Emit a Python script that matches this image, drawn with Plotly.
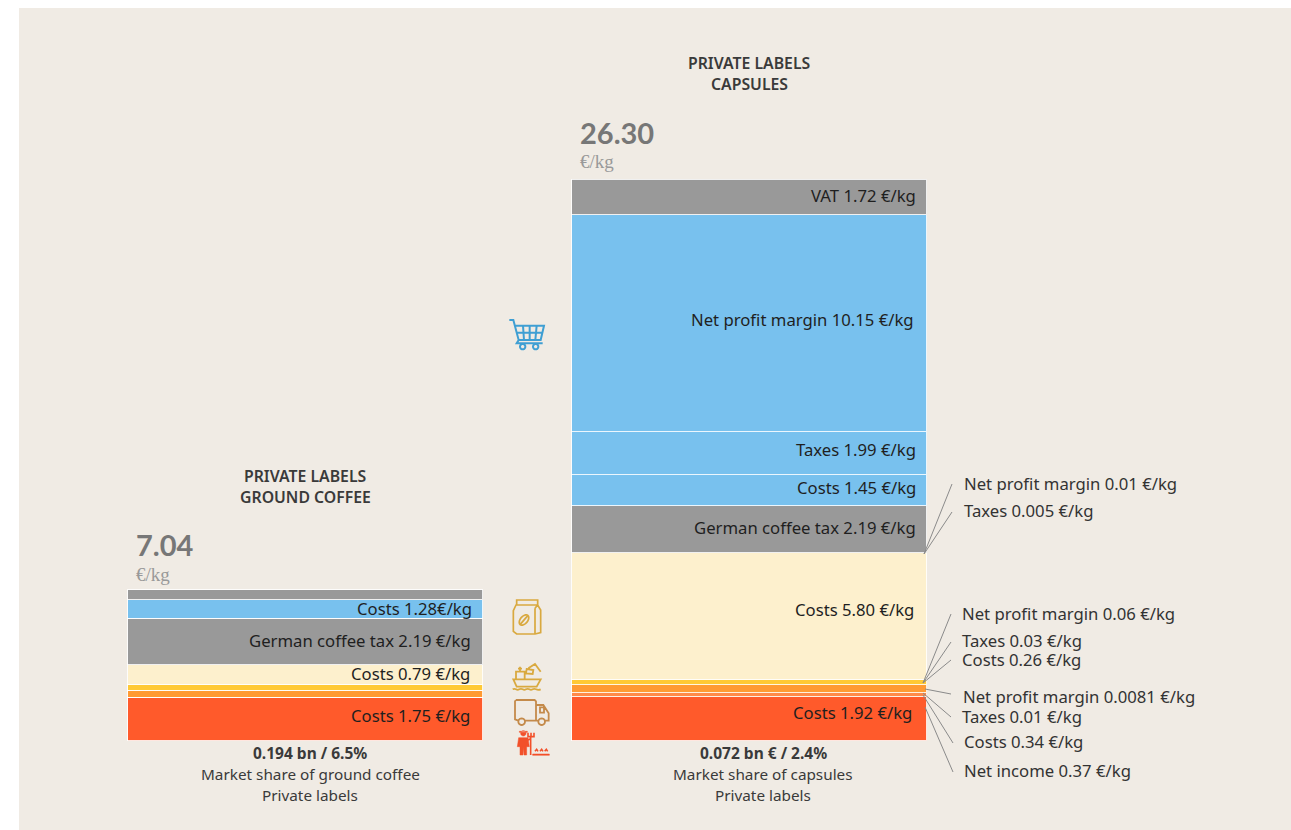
import re
import math
import plotly.graph_objects as go

# ---------- data (heights in EUR/kg) ----------
products = ["Ground coffee", "Capsules"]
seg_colors = ["#ff5a2b", "#ff8a4a", "#ff9a33", "#ffc935", "#fdf0cd", "#999999", "#78c1ee", "#78c1ee", "#78c1ee", "#999999"]
ground_values = [2.02, 0.0, 0.33, 0.28, 0.91, 2.20, 0.87, 0.0, 0.0, 0.46]
capsule_values = [2.06, 0.19, 0.375, 0.235, 5.95, 2.20, 1.45, 2.02, 10.17, 1.67]

inner_labels = [
    ("VAT 1.72 €/kg", 916, 195), ("Net profit margin 10.15 €/kg", 914, 319),
    ("Taxes 1.99 €/kg", 916, 449), ("Costs 1.45 €/kg", 916, 488),
    ("German coffee tax 2.19 €/kg", 916, 527), ("Costs 5.80 €/kg", 914, 609),
    ("Costs 1.92 €/kg", 912, 712), ("Costs 1.28€/kg", 472, 608),
    ("German coffee tax 2.19 €/kg", 471, 640), ("Costs 0.79 €/kg", 470, 673),
    ("Costs 1.75 €/kg", 470, 715),
]
side_labels = [
    ("Net profit margin 0.01 €/kg", 964, 483, (924, 554), (952, 484)),
    ("Taxes 0.005 €/kg", 964, 510, (924, 554), (952, 512)),
    ("Net profit margin 0.06 €/kg", 962, 613, (923, 683), (951, 614)),
    ("Taxes 0.03 €/kg", 962, 640, (923, 683), (951, 642)),
    ("Costs 0.26 €/kg", 962, 659, (923, 683), (951, 660)),
    ("Net profit margin 0.0081 €/kg", 963, 696, (925, 689), (951, 694)),
    ("Taxes 0.01 €/kg", 962, 716, (923, 693), (951, 717)),
    ("Costs 0.34 €/kg", 964, 741, (923, 695), (953, 743)),
    ("Net income 0.37 €/kg", 964, 770, (925, 707), (953, 772)),
]
center_labels = [
    ("PRIVATE LABELS", 749, 63, 600, 15.8), ("CAPSULES", 749, 84, 600, 15.8),
    ("PRIVATE LABELS", 305, 476, 600, 15.8), ("GROUND COFFEE", 305, 497, 600, 15.8),
    ("0.194 bn / 6.5%", 310, 753, 700, 15.5), ("Market share of ground coffee", 310, 774, 400, 15.3),
    ("Private labels", 310, 795, 400, 15.3),
    ("0.072 bn € / 2.4%", 763, 753, 700, 15.5), ("Market share of capsules", 763, 774, 400, 15.3),
    ("Private labels", 763, 795, 400, 15.3),
]
totals = [("26.30", 580, 132, 161), ("7.04", 136, 544, 574)]

# ---------- page geometry ----------
W0, H0, X1, Y1 = 19, 8, 1291, 830
PXW, PXH = X1 - W0, Y1 - H0
def fx(x): return (x - W0) / PXW
def fy(y): return (Y1 - y) / PXH
UNIT = 21.33      # px per EUR/kg
BASE = 740.5      # baseline px
STEP = 444        # px between bars
LEFT_C = 305

FONT = "Noto Sans"
shapes, annos = [], []

def path(d, ox, oy, s=1/3):
    toks = re.findall(r"[MLCZ]|-?\d+\.?\d*", d)
    out, i = [], 0
    while i < len(toks):
        t = toks[i]
        if t in "MLCZ":
            out.append(t); i += 1
        else:
            x, y = float(toks[i]), float(toks[i + 1])
            out.append(f"{fx(ox + x * s):.5f},{fy(oy + y * s):.5f}")
            i += 2
    return " ".join(out)

def circ(cx, cy, r, rx=None, rot=0):
    rx = rx if rx is not None else r
    pts = []
    for k in range(20):
        a = 2 * math.pi * k / 20
        x, y = rx * math.cos(a), r * math.sin(a)
        c, sn = math.cos(rot), math.sin(rot)
        pts.append((cx + x * c - y * sn, cy + x * sn + y * c))
    return "M" + " L".join(f"{p[0]:.1f} {p[1]:.1f}" for p in pts) + " Z "

def icon(d, ox, oy, stroke, width=1.6, fill=None):
    shapes.append(dict(type="path", xref="paper", yref="paper", path=path(d, ox, oy),
                       line=dict(color=stroke, width=width),
                       fillcolor=fill if fill else "rgba(0,0,0,0)", layer="above"))

# cart
BLUE_I = "#3f9fd3"
cart = ("M28 30 L40 30 L56 90 L50 100 L128 100 "
        "M47 47 L132 47 L122 90 L56 90 "
        "M69 47 L72 90 M89 47 L89 90 M110 47 L106 90 M50 68 L127 68 ")
icon(cart + circ(68, 110, 8) + circ(107, 110, 8), 500, 310, BLUE_I, 2)

# bag
GOLD = "#d9a93f"
bag = ("M48 45 L113 45 L122 60 L122 128 L105 132 L50 132 L40 124 L40 62 Z "
       "M50 30 L113 30 L113 45 L50 45 Z M105 55 L105 132 M113 45 L105 55 "
       "M60 104 L84 76 ")
icon(bag + circ(72, 90, 18, 11, 0.7), 500, 590, GOLD, 1.7)

# ship
ship = ("M40 268 L122 268 L110 290 L50 290 Z M48 268 L48 245 L74 245 L74 268 "
        "M60 245 L60 230 M54 236 L66 236 M85 235 L105 222 L122 245 "
        "M80 237 L100 240 L98 252 L78 250 Z "
        "M38 298 C48 292 48 304 58 298 C68 292 68 304 78 298 C88 292 88 304 98 298 C108 292 108 304 122 298 ")
icon(ship, 500, 590, GOLD, 1.8)

# truck
TRUCK = "#c48a4a"
truck = ("M48 330 L104 330 L108 334 L108 392 M108 345 L130 345 L146 370 L146 392 L135 392 "
         "M48 330 L45 334 L45 388 L55 392 M75 392 L115 392 M120 352 L132 352 L132 368 L120 368 Z ")
icon(truck + circ(65, 395, 10) + circ(125, 395, 10), 500, 590, TRUCK, 1.8)

# farmer
FARM = "#f2502a"
body = ("M56 443 L84 443 L88 470 L80 470 L80 495 L72 495 L71 472 L69 495 L60 495 L60 470 L52 470 Z "
        + circ(70, 430, 8) +
        "M58 424 L82 424 L82 427 L58 427 Z "
        "M98 492 L148 492 L148 496 L98 496 Z")
icon(body, 500, 590, FARM, 0.5, FARM)
icon("M92 440 L92 495 M84 428 L84 440 L102 440 L102 428 M93 428 L93 440 M84 450 L92 446 "
     "M105 484 L110 478 L114 484 M120 484 L125 478 L129 484 M134 484 L139 478 L143 484", 500, 590, FARM, 1.6)

# leaders
for _, _, _, a, b in side_labels:
    shapes.append(dict(type="line", xref="paper", yref="paper", x0=fx(a[0]), y0=fy(a[1]),
                       x1=fx(b[0]), y1=fy(b[1]), line=dict(color="#8a8a8a", width=1), layer="above"))

def text(t, x, y, size=16.7, color="#2b2b2b", anchor="left", family=FONT, weight=400):
    nudge = {"left": -1, "right": 1, "center": 0}[anchor]
    annos.append(dict(text=t, x=fx(x + nudge), y=fy(y), xref="paper", yref="paper", showarrow=False,
                      xanchor=anchor, yanchor="middle",
                      font=dict(size=size, color=color, family=family, weight=weight),
                      borderpad=0))

for t, x, y in inner_labels:
    text(t, x, y, anchor="right", color="#1f1f1f")
for t, x, y, _, _ in side_labels:
    text(t, x, y, color="#333333")
for t, x, y, w, sz in center_labels:
    text(t, x, y, size=sz, anchor="center", color="#3a3a3a", weight=w)
for t, x, y, y2 in totals:
    text(t, x, y, size=29, color="#777777", family="Lato", weight=700)
    text("€/kg", x, y2, size=19, color="#999999", family="Liberation Serif")

fig = go.Figure()
for i, col in enumerate(seg_colors):
    fig.add_trace(go.Bar(x=[0, 1], y=[ground_values[i], capsule_values[i]],
                         marker=dict(color=col, line=dict(color="rgba(255,255,255,0.85)", width=1)),
                         width=355 / STEP, showlegend=False, hoverinfo="skip"))

fig.update_layout(
    width=1291, height=830, barmode="stack", autosize=False,
    margin=dict(l=W0, r=0, t=H0, b=0),
    paper_bgcolor="white", plot_bgcolor="#f0ebe4",
    xaxis=dict(visible=False, range=[(W0 - LEFT_C) / STEP, (X1 - LEFT_C) / STEP], fixedrange=True),
    yaxis=dict(visible=False, range=[(BASE - Y1) / UNIT, (BASE - H0) / UNIT], fixedrange=True),
    shapes=shapes, annotations=annos, font=dict(family=FONT),
)
fig.write_html("out.html", config={"displayModeBar": False},
               post_script="document.body.style.margin='0';document.documentElement.style.overflow='hidden';")
